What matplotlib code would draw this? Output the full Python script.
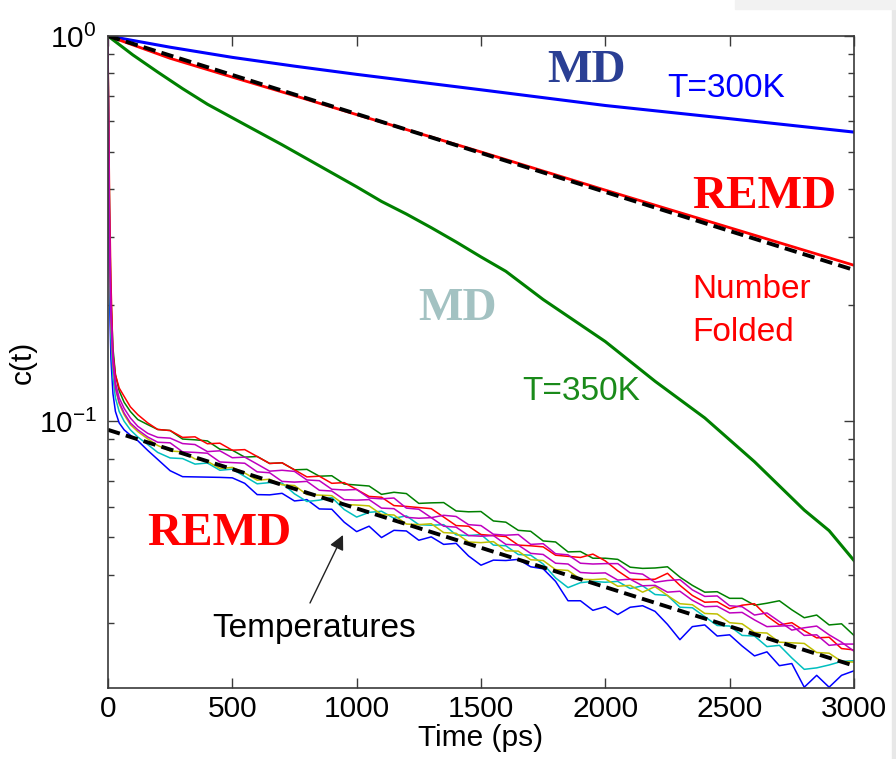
import numpy as np
import matplotlib
matplotlib.use("Agg")
import matplotlib.pyplot as plt
from matplotlib.patches import Rectangle
from matplotlib.ticker import LogLocator, NullFormatter, FixedLocator

plt.rcParams["font.family"] = ["Liberation Sans", "DejaVu Sans"]
plt.rcParams["mathtext.fontset"] = "custom"
plt.rcParams["mathtext.rm"] = "Liberation Sans"

# ----------------------- Data ---------------------------
# MD runs (smooth curves)
t_md300 = [0, 250, 500, 750, 1000, 1500, 2000, 2500, 3000]
c_md300 = [1.0, 0.935, 0.88, 0.835, 0.795, 0.725, 0.66, 0.61, 0.563]

t_md350 = [0, 100, 200, 300, 400, 550, 700, 1000, 1100, 1200, 1300, 1400, 1500, 1600,
           1750, 2000, 2200, 2400, 2600, 2800, 2900, 3000]
c_md350 = [1.0, 0.893, 0.806, 0.73, 0.665, 0.589, 0.522, 0.406, 0.372, 0.345, 0.318,
           0.292, 0.267, 0.245, 0.207, 0.161, 0.127, 0.102, 0.0785, 0.0588, 0.052, 0.0435]

# REMD number folded
t_fold = [0, 250, 500, 750, 1000, 1500, 2000, 2500, 3000]
c_fold = [1.0, 0.875, 0.782, 0.70, 0.625, 0.50, 0.398, 0.318, 0.254]

# exponential fits (dashed)
t_fit = [0, 3000]
c_fit_fold = [1.0, 0.247]
c_fit_temp = [0.095, 0.0232]

# REMD replicas at different temperatures
t_rep = np.concatenate([[0, 3, 7, 12, 20, 30, 45, 65, 90, 120, 160],
                        np.arange(200, 3001, 50)])

rep_blue = [1.0, 0.40, 0.20, 0.145, 0.118, 0.106, 0.099, 0.095, 0.092, 0.089, 0.084,
            0.0796, 0.0744, 0.0718, 0.0717, 0.0716, 0.0715, 0.0713, 0.0690, 0.0645, 0.0644,
            0.0650, 0.0621, 0.0626, 0.0592, 0.0591, 0.0547, 0.0517, 0.0534, 0.0499, 0.0521,
            0.0519, 0.0491, 0.0501, 0.0479, 0.0482, 0.0447, 0.0423, 0.0436, 0.0435, 0.0438,
            0.0419, 0.0414, 0.0384, 0.0342, 0.0342, 0.0323, 0.0330, 0.0315, 0.0329, 0.0332,
            0.0321, 0.0297, 0.0271, 0.0293, 0.0296, 0.0277, 0.0279, 0.0261, 0.0246, 0.0252,
            0.0232, 0.0235, 0.0204, 0.0219, 0.0204, 0.0219, 0.0225]

rep_cyan = [1.0, 0.45, 0.24, 0.165, 0.13, 0.115, 0.106, 0.100, 0.095, 0.091, 0.087,
            0.0830, 0.0803, 0.0800, 0.0774, 0.0779, 0.0746, 0.0751, 0.0719, 0.0688, 0.0693,
            0.0691, 0.0648, 0.0619, 0.0624, 0.0634, 0.0590, 0.0564, 0.0580, 0.0584, 0.0560,
            0.0568, 0.0539, 0.0537, 0.0539, 0.0507, 0.0505, 0.0508, 0.0477, 0.0475, 0.0451,
            0.0449, 0.0426, 0.0392, 0.0370, 0.0381, 0.0384, 0.0382, 0.0384, 0.0368, 0.0374,
            0.0355, 0.0353, 0.0329, 0.0328, 0.0311, 0.0295, 0.0294, 0.0278, 0.0277, 0.0260,
            0.0262, 0.0243, 0.0227, 0.0229, 0.0233, 0.0238, 0.0239]

rep_yellow = [1.0, 0.50, 0.27, 0.18, 0.14, 0.122, 0.111, 0.104, 0.098, 0.094, 0.090,
              0.0865, 0.0837, 0.0833, 0.0798, 0.0787, 0.0754, 0.0759, 0.0734, 0.0703, 0.0707,
              0.0684, 0.0681, 0.0645, 0.0643, 0.0641, 0.0608, 0.0606, 0.0603, 0.0573, 0.0571,
              0.0541, 0.0539, 0.0542, 0.0514, 0.0512, 0.0486, 0.0484, 0.0487, 0.0461, 0.0460,
              0.0437, 0.0435, 0.0412, 0.0410, 0.0389, 0.0388, 0.0390, 0.0373, 0.0375, 0.0360,
              0.0372, 0.0353, 0.0336, 0.0334, 0.0317, 0.0316, 0.0300, 0.0298, 0.0283, 0.0282,
              0.0267, 0.0266, 0.0265, 0.0251, 0.0250, 0.0238, 0.0237]

rep_green = [1.0, 0.55, 0.32, 0.21, 0.155, 0.132, 0.120, 0.112, 0.106, 0.101, 0.098,
             0.0952, 0.0946, 0.0899, 0.0895, 0.0889, 0.0846, 0.0841, 0.0807, 0.0810, 0.0777,
             0.0780, 0.0748, 0.0750, 0.0720, 0.0722, 0.0687, 0.0683, 0.0679, 0.0646, 0.0654,
             0.0649, 0.0612, 0.0614, 0.0615, 0.0585, 0.0582, 0.0583, 0.0551, 0.0547, 0.0521,
             0.0518, 0.0489, 0.0486, 0.0458, 0.0459, 0.0441, 0.0441, 0.0438, 0.0418, 0.0415,
             0.0416, 0.0419, 0.0394, 0.0375, 0.0360, 0.0361, 0.0347, 0.0347, 0.0333, 0.0337,
             0.0342, 0.0324, 0.0309, 0.0314, 0.0296, 0.0298, 0.0278]

rep_red = [1.0, 0.60, 0.36, 0.23, 0.15, 0.132, 0.122, 0.116, 0.109, 0.104, 0.099,
           0.0952, 0.0946, 0.0908, 0.0911, 0.0874, 0.0877, 0.0841, 0.0844, 0.0810, 0.0777,
           0.0780, 0.0748, 0.0717, 0.0720, 0.0690, 0.0693, 0.0665, 0.0638, 0.0635, 0.0604,
           0.0601, 0.0597, 0.0593, 0.0564, 0.0536, 0.0534, 0.0508, 0.0505, 0.0502, 0.0477,
           0.0475, 0.0472, 0.0449, 0.0446, 0.0443, 0.0452, 0.0434, 0.0409, 0.0389, 0.0388,
           0.0389, 0.0403, 0.0375, 0.0353, 0.0339, 0.0340, 0.0326, 0.0333, 0.0336, 0.0312,
           0.0296, 0.0300, 0.0286, 0.0274, 0.0275, 0.0257, 0.0255]

rep_magenta2 = [1.0, 0.48, 0.27, 0.185, 0.142, 0.122, 0.112, 0.105, 0.099, 0.095, 0.091,
                0.0882, 0.0879, 0.0833, 0.0830, 0.0826, 0.0784, 0.0781, 0.0778, 0.0739, 0.0735,
                0.0698, 0.0695, 0.0698, 0.0662, 0.0659, 0.0626, 0.0624, 0.0626, 0.0595, 0.0593,
                0.0563, 0.0560, 0.0562, 0.0534, 0.0531, 0.0505, 0.0503, 0.0505, 0.0479, 0.0477,
                0.0454, 0.0451, 0.0428, 0.0426, 0.0405, 0.0403, 0.0404, 0.0387, 0.0389, 0.0374,
                0.0375, 0.0360, 0.0362, 0.0343, 0.0330, 0.0331, 0.0318, 0.0319, 0.0305, 0.0293,
                0.0294, 0.0295, 0.0278, 0.0279, 0.0262, 0.0264, 0.0264]

rep_magenta = [1.0, 0.52, 0.30, 0.20, 0.148, 0.126, 0.115, 0.108, 0.102, 0.097, 0.093,
               0.0908, 0.0904, 0.0875, 0.0870, 0.0834, 0.0838, 0.0804, 0.0807, 0.0774, 0.0742,
               0.0746, 0.0741, 0.0704, 0.0701, 0.0666, 0.0663, 0.0665, 0.0632, 0.0629, 0.0632,
               0.0595, 0.0591, 0.0562, 0.0570, 0.0566, 0.0539, 0.0536, 0.0509, 0.0506, 0.0508,
               0.0479, 0.0481, 0.0453, 0.0450, 0.0428, 0.0426, 0.0427, 0.0427, 0.0404, 0.0401,
               0.0382, 0.0386, 0.0388, 0.0365, 0.0351, 0.0352, 0.0332, 0.0330, 0.0314, 0.0318,
               0.0302, 0.0287, 0.0291, 0.0294, 0.0279, 0.0267, 0.0253]

replicas = [
    (rep_blue, (0, 0, 1)),
    (rep_cyan, (0, 0.75, 0.75)),
    (rep_yellow, (0.75, 0.75, 0)),
    (rep_green, (0, 0.5, 0)),
    (rep_red, (1, 0, 0)),
    (rep_magenta2, (0.75, 0, 0.75)),
    (rep_magenta, (0.75, 0, 0.75)),
]

x_ticks = [0, 500, 1000, 1500, 2000, 2500, 3000]

# ----------------------- Plotting ---------------------------
fig = plt.figure(figsize=(8.96, 7.59), dpi=100)
fig.patch.set_facecolor("white")

# faint slide shadow on the right / top edge
fig.add_artist(Rectangle((0.996, 0), 0.004, 1, transform=fig.transFigure,
                         color="#e8e8e8", zorder=-5))
fig.add_artist(Rectangle((0.82, 0.988), 0.18, 0.012, transform=fig.transFigure,
                         color="#f2f2f2", zorder=-5))

ax = fig.add_axes([0.1205, 0.0935, 0.8326, 0.8591])

for vals, col in replicas:
    ax.plot(t_rep, vals, color=col, lw=1.1)

ax.plot(t_fit, c_fit_temp, color="black", lw=2.8, linestyle=(0, (3.2, 1.6)))

ax.plot(t_md300, c_md300, color="#0000ff", lw=2.2)
ax.plot(t_md350, c_md350, color="#008000", lw=2.2)
ax.plot(t_fold, c_fold, color="#ff0000", lw=2.0)
ax.plot(t_fit, c_fit_fold, color="black", lw=2.8, linestyle=(0, (3.2, 1.6)))

ax.set_yscale("log")
ax.set_xlim(0, 3000)
ax.set_ylim(0.0203, 1.0)
ax.xaxis.set_major_locator(FixedLocator(x_ticks))
ax.yaxis.set_major_locator(LogLocator(base=10, numticks=10))
ax.yaxis.set_minor_locator(LogLocator(base=10, subs=np.arange(2, 10), numticks=20))
ax.yaxis.set_minor_formatter(NullFormatter())

for sp in ax.spines.values():
    sp.set_color("#3a3a3a")
    sp.set_linewidth(1.2)
ax.tick_params(which="both", direction="in", top=True, right=True,
               color="#3a3a3a", width=1)
ax.tick_params(which="major", length=7, labelsize=21.5)
ax.tick_params(which="minor", length=4)
ax.tick_params(axis="x", pad=5)
ax.tick_params(axis="y", pad=8)

ax.set_xlabel("Time (ps)", fontsize=21.5)
ax.set_ylabel("c(t)", fontsize=21.5)
ax.xaxis.set_label_coords(0.5, -0.055)
ax.yaxis.set_label_coords(-0.095, 0.5)

# ----------------------- Annotations ---------------------------
W, H = 896.0, 759.0

def ftext(x, y, s, **kw):
    fig.text(x / W, 1 - y / H, s, ha="left", va="baseline", **kw)

serif = dict(family="Liberation Serif", weight="bold", fontsize=34)
ftext(547, 82, "MD", color="#2a3f94", **serif)
ftext(667, 97, "T=300K", color="#0000ff", fontsize=24)
ftext(692, 208, "REMD", color="#ff0000", **serif)
ftext(692, 298, "Number", color="#ff0000", fontsize=24)
ftext(692, 341, "Folded", color="#ff0000", fontsize=24)
ftext(418, 320, "MD", color="#a3c2c2", **serif)
ftext(522, 400, "T=350K", color="#1a8a1a", fontsize=24)
ftext(147, 545, "REMD", color="#ff0000", **serif)
ftext(212, 637, "Temperatures", color="black", fontsize=24)

ax.annotate("", xy=(343, H - 535), xycoords="figure pixels",
            xytext=(310, H - 603), textcoords="figure pixels",
            arrowprops=dict(arrowstyle="-|>", color="#222222", lw=1.0,
                            mutation_scale=22, shrinkA=0, shrinkB=0))

plt.savefig("out.png", dpi=100)
